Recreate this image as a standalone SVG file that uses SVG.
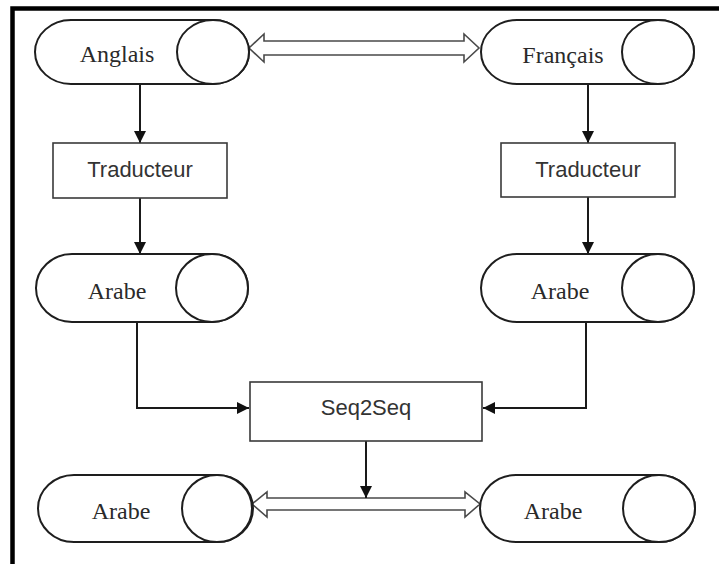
<svg xmlns="http://www.w3.org/2000/svg" width="719" height="564" viewBox="0 0 719 564">
  <style>
    .cyl { fill: #ffffff; stroke: #1e1e1e; stroke-width: 2; }
    .box { fill: #ffffff; stroke: #3a3a3a; stroke-width: 1.6; }
    .serif { font-family: "Liberation Serif", "Times New Roman", serif; font-size: 24px; fill: #2a2a2a; text-anchor: middle; }
    .sans { font-family: "Liberation Sans", Arial, sans-serif; font-size: 22px; fill: #333333; text-anchor: middle; }
    .wire { fill: none; stroke: #1a1a1a; stroke-width: 2; }
    .dbl { fill: #ffffff; stroke: #4a4a4a; stroke-width: 1.6; stroke-linejoin: miter; }
    .frame { fill: none; stroke: #000000; stroke-width: 4.5; }
  </style>
  <defs>
    <marker id="tri" viewBox="0 0 12 12" refX="12" refY="6" markerWidth="12" markerHeight="12" markerUnits="userSpaceOnUse" orient="auto">
      <path d="M0,0 L12,6 L0,12 Z" fill="#111111"/>
    </marker>
  </defs>

  <rect width="719" height="564" fill="#ffffff"/>
  <!-- outer frame: top and left edges -->
  <path class="frame" d="M12.5,564 V8.5 H719"/>

  <!-- connectors -->
  <g id="connectors">
    <line class="wire" x1="140" y1="85" x2="140" y2="143" marker-end="url(#tri)"/>
    <line class="wire" x1="140" y1="198" x2="140" y2="254" marker-end="url(#tri)"/>
    <line class="wire" x1="588" y1="85" x2="588" y2="143" marker-end="url(#tri)"/>
    <line class="wire" x1="588" y1="197" x2="588" y2="254" marker-end="url(#tri)"/>
    <polyline class="wire" points="137,322 137,408 249,408" marker-end="url(#tri)"/>
    <polyline class="wire" points="586,321 586,408 483,408" marker-end="url(#tri)"/>
    <!-- hollow double arrows -->
    <path class="dbl" d="M249,48 L264,34 L264,41 L464,41 L464,34 L479,48 L464,62 L464,55 L264,55 L264,62 Z"/>
    <path class="dbl" d="M252,504 L267,492 L267,498 L465,498 L465,492 L480,504 L465,517 L465,510 L267,510 L267,517 Z"/>
    <line class="wire" x1="366" y1="441" x2="366" y2="498" marker-end="url(#tri)"/>
  </g>

  <!-- Anglais -->
  <g id="anglais">
    <path class="cyl" d="M71,20 H213 A36,32 0 0 1 213,84 H71 A36,32 0 0 1 71,20 Z"/>
    <ellipse class="cyl" cx="213" cy="52" rx="36" ry="32"/>
    <text class="serif" x="117" y="62">Anglais</text>
  </g>

  <!-- Français -->
  <g id="francais">
    <path class="cyl" d="M517,20 H658 A36,32 0 0 1 658,84 H517 A36,32 0 0 1 517,20 Z"/>
    <ellipse class="cyl" cx="658" cy="52" rx="36" ry="32"/>
    <text class="serif" x="563" y="63">Français</text>
  </g>

  <!-- Traducteur (left) -->
  <g id="traducteur-gauche">
    <rect class="box" x="53" y="143" width="174" height="55"/>
    <text class="sans" x="140" y="177">Traducteur</text>
  </g>

  <!-- Traducteur (right) -->
  <g id="traducteur-droite">
    <rect class="box" x="501" y="143" width="174" height="54"/>
    <text class="sans" x="588" y="177">Traducteur</text>
  </g>

  <!-- Arabe (middle left) -->
  <g id="arabe-gauche">
    <path class="cyl" d="M72,254 H212 A36,34 0 0 1 212,322 H72 A36,34 0 0 1 72,254 Z"/>
    <ellipse class="cyl" cx="212" cy="288" rx="36" ry="34"/>
    <text class="serif" x="117" y="299">Arabe</text>
  </g>

  <!-- Arabe (middle right) -->
  <g id="arabe-droite">
    <path class="cyl" d="M517,254 H658 A36,34 0 0 1 658,322 H517 A36,34 0 0 1 517,254 Z"/>
    <ellipse class="cyl" cx="658" cy="288" rx="36" ry="34"/>
    <text class="serif" x="560" y="299">Arabe</text>
  </g>

  <!-- Seq2Seq -->
  <g id="seq2seq">
    <rect class="box" x="250" y="382" width="232" height="59"/>
    <text class="sans" x="366" y="415">Seq2Seq</text>
  </g>

  <!-- Arabe (bottom left) -->
  <g id="arabe-bas-gauche">
    <path class="cyl" d="M74,475 H217 A36,33.5 0 0 1 217,542 H74 A36,33.5 0 0 1 74,475 Z"/>
    <ellipse class="cyl" cx="217" cy="508.5" rx="35" ry="33.5"/>
    <text class="serif" x="121" y="519">Arabe</text>
  </g>

  <!-- Arabe (bottom right) -->
  <g id="arabe-bas-droite">
    <path class="cyl" d="M516,475 H659 A36,33.5 0 0 1 659,542 H516 A36,33.5 0 0 1 516,475 Z"/>
    <ellipse class="cyl" cx="659" cy="508.5" rx="36" ry="33.5"/>
    <text class="serif" x="553" y="519">Arabe</text>
  </g>
</svg>
